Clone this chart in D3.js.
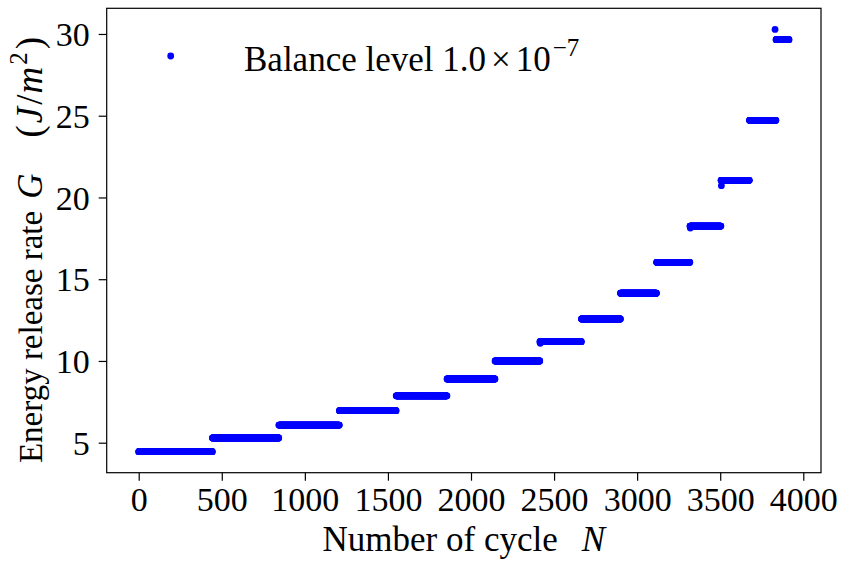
<!DOCTYPE html>
<meta charset="utf-8">
<script src="https://d3js.org/d3.v7.min.js"></script>
<style>
  body { margin: 0; background: #fff; }
  text { font-family: "Liberation Serif", "Times New Roman", serif; fill: #000; }
</style>
<body>
<div id="chart"></div>
<script>

// first cycle of each plateau, its level G (J/m^2), and the last cycle of the run
const stepStart = [0, 444, 844, 1208, 1550, 1856, 2145, 2415, 2665, 2900, 3117, 3318, 3505, 3676, 3836];
const stepLevel = [4.45, 5.29, 6.08, 6.96, 7.87, 8.90, 10.0, 11.18, 12.57, 14.14, 16.03, 18.25, 21.05, 24.72, 29.65];
const lastCycle = 3914;

// single transition points that sit off their plateau
const extraN = [2417, 3320, 3507, 3830];
const extraG = [11.08, 18.13, 20.72, 30.28];

const xTicks = [0, 500, 1000, 1500, 2000, 2500, 3000, 3500, 4000];
const yTicks = [5, 10, 15, 20, 25, 30];

// build one point per cycle from the plateaus
const points = [];
stepStart.forEach(function(s, i) {
  const e = i < stepStart.length - 1 ? stepStart[i + 1] - 1 : lastCycle;
  for (let n = s; n <= e; n++) points.push({ n: n, g: stepLevel[i] });
});
extraN.forEach(function(n, i) { points.push({ n: n, g: extraG[i] }); });

const W = 842, H = 563;
const margin = { top: 8.3, right: 21, bottom: 90.3, left: 106.7 };
const width = W - margin.left - margin.right,
      height = H - margin.top - margin.bottom;

const svg = d3.select("#chart").append("svg")
    .attr("width", W).attr("height", H);
svg.append("rect").attr("width", W).attr("height", H).attr("fill", "#fff");

const g = svg.append("g")
    .attr("transform", `translate(${margin.left}, ${margin.top})`);

const x = d3.scaleLinear().domain([-192.6, 4106.6]).range([0, width]);
const y = d3.scaleLinear().domain([3.165, 31.57]).range([height, 0]);

// points
g.append("g").selectAll("circle")
  .data(points)
  .join("circle")
    .attr("cx", function(d) { return x(d.n); })
    .attr("cy", function(d) { return y(d.g); })
    .attr("r", 3.4)
    .attr("fill", "#0000ff");

// axes
const xAxis = g.append("g")
    .attr("transform", `translate(0, ${height})`)
    .call(d3.axisBottom(x).tickValues(xTicks).tickSize(8).tickPadding(6).tickFormat(d3.format("d")));
const yAxis = g.append("g")
    .call(d3.axisLeft(y).tickValues(yTicks).tickSize(8).tickPadding(9).tickFormat(d3.format("d")));

[xAxis, yAxis].forEach(function(a) {
  a.select(".domain").remove();
  a.selectAll("line").attr("stroke", "#000").attr("stroke-width", 1.2);
  a.selectAll("text")
    .style("font-family", "'Liberation Serif', serif")
    .style("font-size", "34px")
    .attr("fill", "#000");
});
yAxis.selectAll("text").attr("dy", "0.34em");

// frame
g.append("rect")
    .attr("width", width).attr("height", height)
    .attr("fill", "none").attr("stroke", "#000").attr("stroke-width", 1.2);

// x label
const xl = svg.append("text")
    .attr("x", margin.left + width / 2).attr("y", 551)
    .attr("text-anchor", "middle")
    .style("font-size", "35px");
xl.append("tspan").text("Number of cycle");
xl.append("tspan").attr("dx", 24).style("font-style", "italic").text("N");

// y label
const yl = svg.append("text")
    .attr("transform", "translate(42, 250) rotate(-90)")
    .attr("text-anchor", "middle")
    .style("font-size", "33px");
yl.append("tspan").text("Energy release rate");
yl.append("tspan").attr("dx", 12).style("font-style", "italic").style("font-size", "35px").text("G");
yl.append("tspan").attr("dx", 36).style("font-size", "37px").text("(");
yl.append("tspan").attr("dx", 2).style("font-style", "italic").style("font-size", "37px").text("J");
yl.append("tspan").attr("dx", 2).style("font-size", "37px").text("/");
yl.append("tspan").attr("dx", 1).style("font-style", "italic").style("font-size", "37px").text("m");
yl.append("tspan").attr("dx", 2).attr("dy", -15).style("font-size", "25px").text("2");
yl.append("tspan").attr("dx", 3).attr("dy", 15).style("font-size", "37px").text(")");

// legend
svg.append("circle")
    .attr("cx", 170.7).attr("cy", 56).attr("r", 3.4).attr("fill", "#0000ff");
const lg = svg.append("text")
    .attr("x", 244).attr("y", 71)
    .style("font-size", "35px");
lg.append("tspan").text("Balance level 1.0");
lg.append("tspan").attr("dx", 5).text("\u00d7");
lg.append("tspan").attr("dx", 5).text("10");
lg.append("tspan").attr("dx", 2).attr("dy", -15).style("font-size", "25px").text("\u22127");

</script>
</body>
